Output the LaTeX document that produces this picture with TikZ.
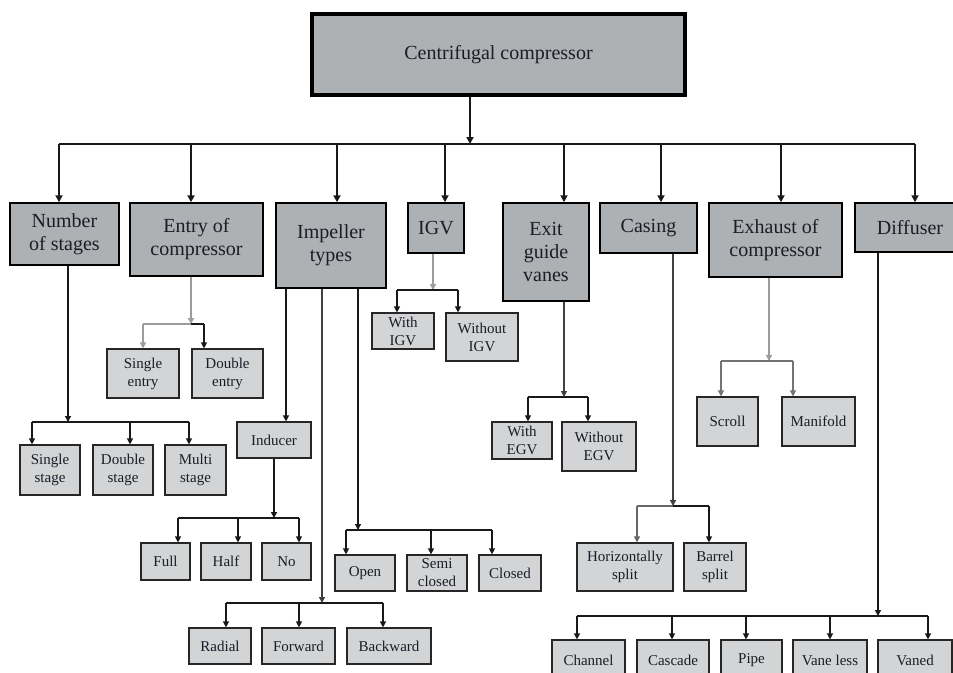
\documentclass[tikz,border=0pt]{standalone}
\usepackage{fontspec}
\setmainfont{Liberation Serif}
\usetikzlibrary{arrows.meta}
\definecolor{fillA}{HTML}{AEB1B4}
\definecolor{fillB}{HTML}{D3D4D6}
\definecolor{txt}{HTML}{1C1C28}
\definecolor{lgray}{HTML}{9C9C9C}
\definecolor{dgray}{HTML}{404040}
\tikzset{
  topbox/.style={draw, line width=4pt, fill=fillA, align=center, text=txt, inner sep=0pt, font=\fontsize{20}{23}\selectfont},
  boxa/.style={draw, line width=1.5pt, fill=fillA, align=center, text=txt, inner sep=0pt, font=\fontsize{20}{23}\selectfont},
  boxb/.style={draw, line width=1.2pt, draw=black!85, fill=fillB, align=center, text=txt, inner sep=0pt, font=\fontsize{15}{18}\selectfont},
  mainline/.style={line width=1.8pt, draw=black!90},
  conn/.style={line width=1.3pt, draw=black!90},
  gconn/.style={line width=1.3pt, draw=lgray},
  arr/.style={-{Triangle[length=7pt,width=7pt]}},
  arrs/.style={-{Triangle[length=6pt,width=6pt]}},
}
\begin{document}
\begin{tikzpicture}[x=1pt,y=-1pt]
\useasboundingbox (0,0) rectangle (953,672);
% top
\node[topbox, minimum width=373pt, minimum height=81pt] (top) at (498.5,54.5) {Centrifugal compressor};
% level 1
\node[boxa, minimum width=109pt, minimum height=62pt] (stages) at (64.5,234) {Number\\of stages};
\node[boxa, minimum width=133pt, minimum height=73pt] (entry) at (196.5,239.5) {Entry of\\compressor};
\node[boxa, minimum width=110pt, minimum height=85pt] (imp) at (331,245.5) {Impeller\\types};
\node[boxa, minimum width=56pt, minimum height=50pt] (igv) at (436,228) {IGV};
\node[boxa, minimum width=86pt, minimum height=98pt] (exit) at (546,252) {Exit\\guide\\vanes};
\node[boxa, minimum width=97pt, minimum height=50pt] (casing) at (648.5,228) {Casing};
\node[boxa, minimum width=133pt, minimum height=74pt] (exh) at (775.5,240) {Exhaust of\\compressor};
\node[boxa, minimum width=110pt, minimum height=49pt] (diff) at (910,227.5) {Diffuser};
% level 2: stages
\node[boxb, minimum width=60pt, minimum height=50pt] (ss) at (50,470) {Single\\stage};
\node[boxb, minimum width=60pt, minimum height=50pt] (ds) at (123,470) {Double\\stage};
\node[boxb, minimum width=61pt, minimum height=50pt] (ms) at (195.5,470) {Multi\\stage};
% entry
\node[boxb, minimum width=72pt, minimum height=49pt] (se) at (143,373.5) {Single\\entry};
\node[boxb, minimum width=71pt, minimum height=49pt] (de) at (227.5,373.5) {Double\\entry};
% impeller
\node[boxb, minimum width=74pt, minimum height=36pt] (ind) at (274,440) {Inducer};
\node[boxb, minimum width=49pt, minimum height=37pt] (full) at (165.5,561.5) {Full};
\node[boxb, minimum width=50pt, minimum height=37pt] (half) at (226,561.5) {Half};
\node[boxb, minimum width=49pt, minimum height=37pt] (no) at (286.5,561.5) {No};
\node[boxb, minimum width=62pt, minimum height=36pt] (radial) at (220,646) {Radial};
\node[boxb, minimum width=73pt, minimum height=36pt] (fwd) at (298.5,646) {Forward};
\node[boxb, minimum width=84pt, minimum height=36pt] (bwd) at (389,646) {Backward};
\node[boxb, minimum width=60pt, minimum height=36pt] (open) at (365,573) {Open};
\node[boxb, minimum width=60pt, minimum height=36pt] (semi) at (437,573) {Semi\\closed};
\node[boxb, minimum width=62pt, minimum height=36pt] (closed) at (510,573) {Closed};
% igv
\node[boxb, minimum width=62pt, minimum height=36pt] (wigv) at (403,331) {With\\IGV};
\node[boxb, minimum width=72pt, minimum height=48pt] (woigv) at (482,337) {Without\\IGV};
% exit
\node[boxb, minimum width=60pt, minimum height=37pt] (wegv) at (522,440.5) {With\\EGV};
\node[boxb, minimum width=74pt, minimum height=49pt] (woegv) at (599,446.5) {Without\\EGV};
% casing
\node[boxb, minimum width=96pt, minimum height=48pt] (hs) at (625,567) {Horizontally\\split};
\node[boxb, minimum width=62pt, minimum height=48pt] (bs) at (715,567) {Barrel\\split};
% exhaust
\node[boxb, minimum width=61pt, minimum height=49pt] (scroll) at (727.5,421.5) {Scroll};
\node[boxb, minimum width=73pt, minimum height=49pt] (mani) at (818.5,421.5) {Manifold};
% diffuser
\node[boxb, minimum width=73pt, minimum height=40pt] (chan) at (588.5,660) {Channel};
\node[boxb, minimum width=72pt, minimum height=40pt] (casc) at (673,660) {Cascade};
\node[boxb, minimum width=61pt, minimum height=40pt] (pipe) at (751.5,660) {Pipe};
\node[boxb, minimum width=74pt, minimum height=40pt] (vl) at (830,660) {Vane less};
\node[boxb, minimum width=74pt, minimum height=40pt] (vaned) at (915,660) {Vaned};

% ---- main bus
\coordinate (b0) at (470,144);
\coordinate (m1) at (59,144);
\coordinate (m2) at (191,144);
\coordinate (m3) at (337,144);
\coordinate (m4) at (445,144);
\coordinate (m5) at (564,144);
\coordinate (m6) at (661,144);
\coordinate (m7) at (781,144);
\coordinate (m8) at (915,144);
\draw[mainline, arr] (top.south -| b0) -- (b0);
\draw[mainline] (m1) -- (m8);
\draw[mainline, arr] (m1) -- (m1 |- stages.north);
\draw[mainline, arr] (m2) -- (m2 |- entry.north);
\draw[mainline, arr] (m3) -- (m3 |- imp.north);
\draw[mainline, arr] (m4) -- (m4 |- igv.north);
\draw[mainline, arr] (m5) -- (m5 |- exit.north);
\draw[mainline, arr] (m6) -- (m6 |- casing.north);
\draw[mainline, arr] (m7) -- (m7 |- exh.north);
\draw[mainline, arr] (m8) -- (m8 |- diff.north);

% ---- stages
\coordinate (sb) at (68,422);
\coordinate (s1) at (32,422);
\coordinate (s2) at (130,422);
\coordinate (s3) at (189,422);
\draw[conn, arrs] (stages.south -| sb) -- (sb);
\draw[conn] (s1) -- (s3);
\draw[conn, arrs] (s1) -- (s1 |- ss.north);
\draw[conn, arrs] (s2) -- (s2 |- ds.north);
\draw[conn, arrs] (s3) -- (s3 |- ms.north);

% ---- entry
\coordinate (eb) at (191,324);
\coordinate (e1) at (143,324);
\coordinate (e2) at (204,324);
\draw[gconn, arrs] (entry.south -| eb) -- (eb);
\draw[gconn] (e1) -- (eb);
\draw[conn] (eb) -- (e2);
\draw[gconn, arrs] (e1) -- (e1 |- se.north);
\draw[conn, arrs] (e2) -- (e2 |- de.north);

% ---- impeller
\coordinate (ia) at (286,300);
\coordinate (ib) at (322,300);
\coordinate (ic) at (358,300);
\draw[conn, arrs] (imp.south -| ia) -- (ia |- ind.north);
% inducer
\coordinate (nb) at (274,518);
\coordinate (n1) at (178,518);
\coordinate (n2) at (238,518);
\coordinate (n3) at (299,518);
\draw[conn, arrs] (ind.south -| nb) -- (nb);
\draw[conn] (n1) -- (n3);
\draw[conn, arrs] (n1) -- (n1 |- full.north);
\draw[conn, arrs] (n2) -- (n2 |- half.north);
\draw[conn, arrs] (n3) -- (n3 |- no.north);
% blade
\coordinate (rb) at (322,603);
\coordinate (r1) at (226,603);
\coordinate (r2) at (299,603);
\coordinate (r3) at (383,603);
\draw[conn, draw=dgray, arrs] (imp.south -| rb) -- (rb);
\draw[conn] (r1) -- (r3);
\draw[conn, arrs] (r1) -- (r1 |- radial.north);
\draw[conn, arrs] (r2) -- (r2 |- fwd.north);
\draw[conn, arrs] (r3) -- (r3 |- bwd.north);
% open/closed
\coordinate (ob) at (358,530);
\coordinate (o1) at (346,530);
\coordinate (o2) at (431,530);
\coordinate (o3) at (492,530);
\draw[conn, arrs] (imp.south -| ob) -- (ob);
\draw[conn] (o1) -- (o3);
\draw[conn, arrs] (o1) -- (o1 |- open.north);
\draw[conn, arrs] (o2) -- (o2 |- semi.north);
\draw[conn, arrs] (o3) -- (o3 |- closed.north);

% ---- IGV
\coordinate (gb) at (433,290);
\coordinate (g1) at (397,290);
\coordinate (g2) at (458,290);
\draw[gconn, arrs] (igv.south -| gb) -- (gb);
\draw[conn] (g1) -- (g2);
\draw[conn, arrs] (g1) -- (g1 |- wigv.north);
\draw[conn, arrs] (g2) -- (g2 |- woigv.north);

% ---- Exit
\coordinate (xb) at (564,397);
\coordinate (x1) at (528,397);
\coordinate (x2) at (588,397);
\draw[conn, draw=dgray, arrs] (exit.south -| xb) -- (xb);
\draw[conn] (x1) -- (x2);
\draw[conn, arrs] (x1) -- (x1 |- wegv.north);
\draw[conn, arrs] (x2) -- (x2 |- woegv.north);

% ---- Casing
\coordinate (cb) at (673,506);
\coordinate (c1) at (637,506);
\coordinate (c2) at (709,506);
\draw[conn, draw=dgray, arrs] (casing.south -| cb) -- (cb);
\draw[gconn, draw=black!60] (c1) -- (cb);
\draw[conn] (cb) -- (c2);
\draw[conn, draw=black!60, arrs] (c1) -- (c1 |- hs.north);
\draw[conn, arrs] (c2) -- (c2 |- bs.north);

% ---- Exhaust
\coordinate (hb) at (769,361);
\coordinate (h1) at (721,361);
\coordinate (h2) at (793,361);
\draw[gconn, arrs] (exh.south -| hb) -- (hb);
\draw[gconn, draw=black!55] (h1) -- (h2);
\draw[gconn, draw=black!55, arrs] (h1) -- (h1 |- scroll.north);
\draw[gconn, draw=black!55, arrs] (h2) -- (h2 |- mani.north);

% ---- Diffuser
\coordinate (fb) at (878,616);
\coordinate (f1) at (577,616);
\coordinate (f2) at (672,616);
\coordinate (f3) at (746,616);
\coordinate (f4) at (830,616);
\coordinate (f5) at (928,616);
\draw[conn, arrs] (diff.south -| fb) -- (fb);
\draw[conn] (f1) -- (f5);
\draw[conn, arrs] (f1) -- (f1 |- chan.north);
\draw[conn, arrs] (f2) -- (f2 |- casc.north);
\draw[conn, arrs] (f3) -- (f3 |- pipe.north);
\draw[conn, arrs] (f4) -- (f4 |- vl.north);
\draw[conn, arrs] (f5) -- (f5 |- vaned.north);
\end{tikzpicture}
\end{document}
